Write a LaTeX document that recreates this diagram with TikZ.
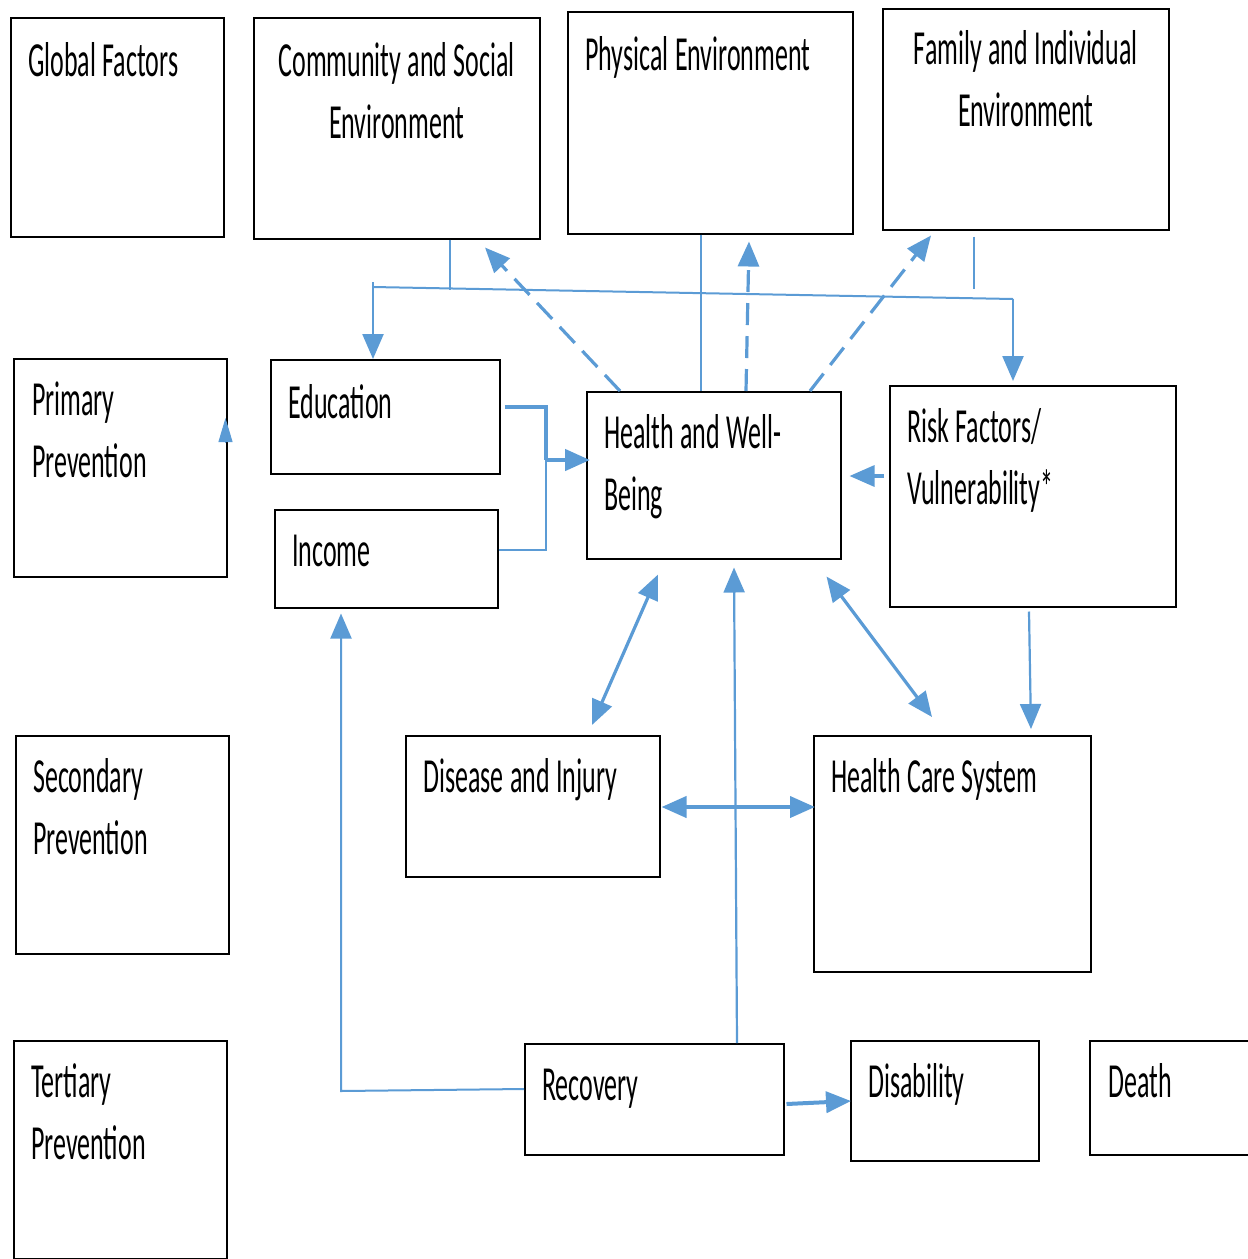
\documentclass[tikz,border=0pt]{standalone}
\usepackage{fontspec}
\setmainfont{Carlito}[FakeStretch=0.53]
\usetikzlibrary{arrows.meta}
\definecolor{linkblue}{RGB}{91,155,213}
\newcommand\boxfont{\fontsize{49}{62}\selectfont\spaceskip=6.5pt plus 2pt minus 1pt\relax}

\begin{document}
\begin{tikzpicture}[x=1pt, y=-1pt,
  box/.style={draw=black, line width=1.5pt, anchor=north west, inner sep=0pt},
  txt/.style={inner sep=0pt, anchor=base west, align=flush left, text width=300pt, font=\boxfont},
  ctxt/.style={inner sep=0pt, anchor=base, align=flush center, font=\boxfont},
  link/.style={draw=linkblue, line width=3.2pt, -{Triangle[length=25pt,width=21pt]}},
  both/.style={draw=linkblue, line width=3.2pt,
    {Triangle[length=25pt,width=21pt]}-{Triangle[length=25pt,width=21pt]}},
  dlink/.style={link, dash pattern=on 22pt off 11pt},
  feed/.style={draw=linkblue, line width=1.2pt},
  bus/.style={draw=linkblue, line width=2pt}]

  \useasboundingbox (0,0) rectangle (1248,1259);

  % top row
  \node[box, minimum width=213, minimum height=219] (gf) at (10,17) {};
  \node[txt] at ([shift={(18,59)}]gf.north west) {Global Factors};
  \node[box, minimum width=286, minimum height=221] (cse) at (253,17) {};
  \node[ctxt, text width=286pt] at ([shift={(0,59)}]cse.north) {Community and Social\\Environment};
  \node[box, minimum width=285, minimum height=222] (phys) at (567,11) {};
  \node[txt] at ([shift={(18,59)}]phys.north west) {Physical Environment};
  \node[box, minimum width=286, minimum height=221] (fie) at (882,8) {};
  \node[ctxt, text width=286pt] at ([shift={(0,56)}]fie.north) {Family and Individual\\Environment};

  % second row
  \node[box, minimum width=213, minimum height=218] (prim) at (13,358) {};
  \node[txt] at ([shift={(19,57)}]prim.north west) {Primary\\Prevention};
  \node[box, minimum width=229, minimum height=114] (edu) at (270,359) {};
  \node[txt] at ([shift={(18,59)}]edu.north west) {Education};
  \node[box, minimum width=223, minimum height=98] (inc) at (274,509) {};
  \node[txt] at ([shift={(18,57)}]inc.north west) {Income};
  \node[box, minimum width=254, minimum height=167] (hwb) at (586,391) {};
  \node[txt] at ([shift={(18,57)}]hwb.north west) {Health and Well-\\Being};
  \node[box, minimum width=286, minimum height=221] (risk) at (889,385) {};
  \node[txt] at ([shift={(18,57)}]risk.north west) {Risk Factors/\\Vulnerability*};

  % third row
  \node[box, minimum width=213, minimum height=218] (sec) at (15,735) {};
  \node[txt] at ([shift={(18,57)}]sec.north west) {Secondary\\Prevention};
  \node[box, minimum width=254, minimum height=141] (dis) at (405,735) {};
  \node[txt] at ([shift={(18,57)}]dis.north west) {Disease and Injury};
  \node[box, minimum width=277, minimum height=236] (hcs) at (813,735) {};
  \node[txt] at ([shift={(18,57)}]hcs.north west) {Health Care System};

  % bottom row
  \node[box, minimum width=213, minimum height=218] (ter) at (13,1040) {};
  \node[txt] at ([shift={(18,57)}]ter.north west) {Tertiary\\Prevention};
  \node[box, minimum width=259, minimum height=111] (rec) at (524,1043) {};
  \node[txt] at ([shift={(18,57)}]rec.north west) {Recovery};
  \node[box, minimum width=188, minimum height=120] (disab) at (850,1040) {};
  \node[txt] at ([shift={(18,57)}]disab.north west) {Disability};
  \node[box, minimum width=200, minimum height=114] (death) at (1089,1040) {};
  \node[txt] at ([shift={(19,57)}]death.north west) {Death};

  % bus under the top row
  \coordinate (busL) at (373,287);
  \coordinate (busR) at (1013,299);
  \draw[bus] (busL) -- (busR);
  \draw[feed] ([shift={(197,0)}]cse.south west) -- ++(0,50);
  \draw[feed] ([shift={(134,0)}]phys.south west) -- ([shift={(115,0)}]hwb.north west);
  \draw[feed] ([shift={(92,6)}]fie.south west) -- ++(0,52);
  \draw[link, line width=2.4pt] ([shift={(0,-5)}]busL) -- (busL |- edu.north);
  \draw[link, line width=2.4pt, shorten >=4pt] (busR) -- (busR |- risk.north);

  % dashed arrows up from health
  \draw[dlink] ([shift={(34,0)}]hwb.north west) -- ([shift={(232,8)}]cse.south west);
  \draw[dlink] ([shift={(160,0)}]hwb.north west) -- ([shift={(182,7)}]phys.south west);
  \draw[dlink] ([shift={(224,0)}]hwb.north west) -- ([shift={(49,5)}]fie.south west);

  % education and income into health
  \coordinate (join) at (546,460);
  \draw[draw=linkblue, line width=3.5pt] ([shift={(4,48)}]edu.north east) -| (join);
  \draw[feed, line width=1.5pt] ([shift={(0,41)}]inc.north east) -| (join);
  \draw[link, line width=4.5pt] (join) -- ([shift={(4,69)}]hwb.north west);

  % risk factors into health
  \draw[link] ([shift={(-5,91)}]risk.north west) -- ([shift={(8,85)}]hwb.north east);

  % primary prevention
  \draw[link, line width=1pt, -{Triangle[length=24pt,width=14pt]}]
    ([shift={(-2,85)}]prim.north east) -- ([shift={(-2,60)}]prim.north east);

  % health links below
  \draw[both] ([shift={(72,15)}]hwb.south west) -- ([shift={(187,-10)}]dis.north west);
  \draw[both] ([shift={(-15,17)}]hwb.south east) -- ([shift={(119,-18)}]hcs.north west);
  \draw[link, line width=2.2pt] ([shift={(213,0)}]rec.north west) -- ([shift={(148,8)}]hwb.south west);
  \draw[link, line width=2.2pt] ([shift={(140,4)}]risk.south west) -- ([shift={(218,-6)}]hcs.north west);
  \draw[both, line width=4pt] ([shift={(1,72)}]dis.north east) -- ([shift={(2,72)}]hcs.north west);

  % recovery
  \coordinate (corner) at (341,1091);
  \draw[link, line width=2pt] ([shift={(0,46)}]rec.north west) -- (corner)
    -- ([shift={(67,5)}]inc.south west);
  \draw[link, line width=4pt] ([shift={(2,61)}]rec.north east) -- ([shift={(1,61)}]disab.north west);
\end{tikzpicture}
\end{document}
